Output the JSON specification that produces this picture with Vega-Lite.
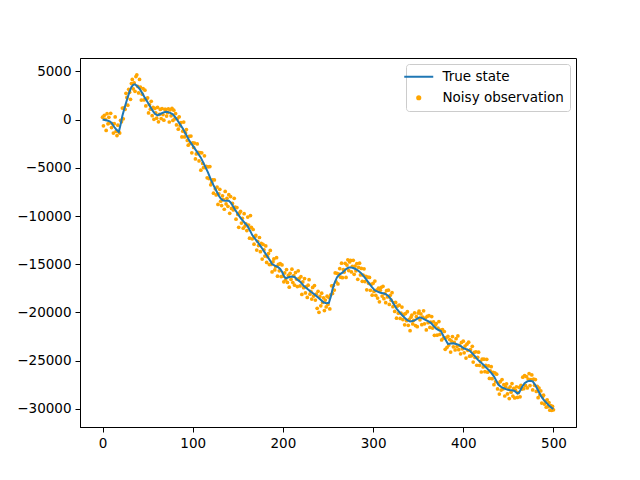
{
  "$schema": "https://vega.github.io/schema/vega-lite/v6.json",
  "autosize": {"type": "none"},
  "padding": {"left": 80, "top": 58, "right": 64, "bottom": 53},
  "width": 496,
  "height": 369,
  "background": "white",
  "config": {
    "view": {"stroke": "black", "strokeWidth": 1},
    "font": "DejaVu Sans",
    "axis": {
      "grid": false,
      "domainColor": "black",
      "domainWidth": 1,
      "tickColor": "black",
      "tickWidth": 1,
      "tickSize": 5,
      "labelFont": "DejaVu Sans",
      "labelFontSize": 13.5,
      "labelColor": "black",
      "labelPadding": 4,
      "title": null
    },
    "legend": {
      "orient": "top-right",
      "offset": 6,
      "padding": 6,
      "rowPadding": 6,
      "fillColor": "white",
      "strokeColor": "#cccccc",
      "cornerRadius": 3,
      "labelFont": "DejaVu Sans",
      "labelFontSize": 13.5,
      "labelColor": "black",
      "labelOffset": 17,
      "symbolSize": 225,
      "symbolStrokeWidth": 2,
      "symbolOpacity": 1
    }
  },
  "datasets": {
    "truth": [
      {"t": 0, "value": 0}, {"t": 5, "value": -100}, {"t": 8, "value": -180}, {"t": 10, "value": -350},
      {"t": 13, "value": -770}, {"t": 15, "value": -1000}, {"t": 18, "value": -1290}, {"t": 20, "value": -500},
      {"t": 22, "value": 400}, {"t": 25, "value": 1400}, {"t": 28, "value": 2340}, {"t": 30, "value": 2900},
      {"t": 32, "value": 3380}, {"t": 34, "value": 3600}, {"t": 36, "value": 3650}, {"t": 38, "value": 3500},
      {"t": 41, "value": 3200}, {"t": 44, "value": 2750}, {"t": 47, "value": 2250}, {"t": 50, "value": 1800},
      {"t": 52, "value": 1480}, {"t": 55, "value": 1000}, {"t": 58, "value": 600}, {"t": 61, "value": 440},
      {"t": 64, "value": 580}, {"t": 67, "value": 720}, {"t": 70, "value": 800}, {"t": 72, "value": 790},
      {"t": 75, "value": 700}, {"t": 78, "value": 550}, {"t": 81, "value": 200}, {"t": 83, "value": -70},
      {"t": 86, "value": -500}, {"t": 89, "value": -930}, {"t": 92, "value": -1450}, {"t": 96, "value": -2150},
      {"t": 100, "value": -2700}, {"t": 104, "value": -3250}, {"t": 109, "value": -3950}, {"t": 114, "value": -4900},
      {"t": 117, "value": -5500}, {"t": 120, "value": -6200}, {"t": 123, "value": -6800}, {"t": 126, "value": -7350},
      {"t": 129, "value": -7900}, {"t": 131, "value": -8180}, {"t": 133, "value": -8350}, {"t": 136, "value": -8430},
      {"t": 140, "value": -8430}, {"t": 142, "value": -8600}, {"t": 144, "value": -8880}, {"t": 147, "value": -9350},
      {"t": 150, "value": -9780}, {"t": 153, "value": -10200}, {"t": 155, "value": -10430}, {"t": 158, "value": -10750},
      {"t": 161, "value": -11080}, {"t": 164, "value": -11600}, {"t": 166, "value": -11980}, {"t": 169, "value": -12350},
      {"t": 172, "value": -12700}, {"t": 175, "value": -13100}, {"t": 177, "value": -13370}, {"t": 180, "value": -13800},
      {"t": 183, "value": -14230}, {"t": 186, "value": -14650}, {"t": 188, "value": -14990}, {"t": 191, "value": -15150},
      {"t": 194, "value": -15260}, {"t": 197, "value": -15500}, {"t": 199, "value": -15780}, {"t": 201, "value": -16200},
      {"t": 203, "value": -16470}, {"t": 205, "value": -16400}, {"t": 207, "value": -16330}, {"t": 210, "value": -16280},
      {"t": 213, "value": -16320}, {"t": 216, "value": -16600}, {"t": 219, "value": -16800}, {"t": 223, "value": -17250},
      {"t": 227, "value": -17550}, {"t": 231, "value": -17850}, {"t": 235, "value": -18130}, {"t": 240, "value": -18540},
      {"t": 245, "value": -18950}, {"t": 248, "value": -19050}, {"t": 251, "value": -19000}, {"t": 253, "value": -18400},
      {"t": 255, "value": -17600}, {"t": 257, "value": -17000}, {"t": 260, "value": -16350}, {"t": 263, "value": -16050},
      {"t": 266, "value": -15880}, {"t": 270, "value": -15500}, {"t": 273, "value": -15350}, {"t": 275, "value": -15330},
      {"t": 278, "value": -15400}, {"t": 281, "value": -15520}, {"t": 284, "value": -15700}, {"t": 287, "value": -15950},
      {"t": 290, "value": -16300}, {"t": 293, "value": -16650}, {"t": 296, "value": -17050}, {"t": 299, "value": -17400},
      {"t": 302, "value": -17720}, {"t": 305, "value": -17850}, {"t": 308, "value": -17960}, {"t": 311, "value": -18020},
      {"t": 314, "value": -18100}, {"t": 317, "value": -18300}, {"t": 320, "value": -18650}, {"t": 323, "value": -19150},
      {"t": 326, "value": -19600}, {"t": 329, "value": -19950}, {"t": 332, "value": -20270}, {"t": 335, "value": -20550},
      {"t": 338, "value": -20800}, {"t": 341, "value": -20950}, {"t": 344, "value": -20900}, {"t": 347, "value": -20780},
      {"t": 350, "value": -20600}, {"t": 352, "value": -20510}, {"t": 355, "value": -20620}, {"t": 358, "value": -20780},
      {"t": 361, "value": -20900}, {"t": 364, "value": -21080}, {"t": 367, "value": -21400}, {"t": 370, "value": -21680},
      {"t": 373, "value": -21850}, {"t": 375, "value": -21900}, {"t": 378, "value": -22450}, {"t": 381, "value": -22950},
      {"t": 383, "value": -23270}, {"t": 386, "value": -23230}, {"t": 389, "value": -23200}, {"t": 392, "value": -23280},
      {"t": 395, "value": -23370}, {"t": 398, "value": -23550}, {"t": 401, "value": -23740}, {"t": 404, "value": -23830},
      {"t": 407, "value": -23950}, {"t": 410, "value": -24250}, {"t": 413, "value": -24560}, {"t": 416, "value": -24900},
      {"t": 419, "value": -25150}, {"t": 422, "value": -25400}, {"t": 425, "value": -25680}, {"t": 428, "value": -25960},
      {"t": 431, "value": -26280}, {"t": 434, "value": -26620}, {"t": 437, "value": -27150}, {"t": 439, "value": -27500},
      {"t": 442, "value": -27720}, {"t": 445, "value": -27870}, {"t": 448, "value": -27980}, {"t": 451, "value": -28050},
      {"t": 454, "value": -28080}, {"t": 457, "value": -28150}, {"t": 460, "value": -28420}, {"t": 462, "value": -28300},
      {"t": 465, "value": -27760}, {"t": 468, "value": -27350}, {"t": 471, "value": -27150}, {"t": 474, "value": -27080},
      {"t": 477, "value": -27150}, {"t": 480, "value": -27550}, {"t": 483, "value": -28100}, {"t": 486, "value": -28650},
      {"t": 489, "value": -29050}, {"t": 492, "value": -29350}, {"t": 495, "value": -29650}, {"t": 498, "value": -29900},
      {"t": 500, "value": -30000}
    ],
    "obs": [
      {"t":0,"value":250},{"t":1,"value":-640},{"t":2,"value":440},{"t":3,"value":30},{"t":4,"value":-1120},
      {"t":5,"value":610},{"t":6,"value":-440},{"t":7,"value":230},{"t":8,"value":-330},{"t":9,"value":650},
      {"t":10,"value":-830},{"t":11,"value":-430},{"t":12,"value":-1400},{"t":13,"value":-430},{"t":14,"value":270},
      {"t":15,"value":-1230},{"t":16,"value":-1660},{"t":17,"value":-580},{"t":18,"value":-1270},{"t":19,"value":-1400},
      {"t":20,"value":-70},{"t":21,"value":-230},{"t":22,"value":1190},{"t":23,"value":80},{"t":24,"value":1210},
      {"t":25,"value":1070},{"t":26,"value":2730},{"t":27,"value":2300},{"t":28,"value":1500},{"t":29,"value":3140},
      {"t":30,"value":2840},{"t":31,"value":2100},{"t":32,"value":3740},{"t":33,"value":4170},{"t":34,"value":3190},
      {"t":35,"value":3820},{"t":36,"value":2930},{"t":37,"value":4460},{"t":38,"value":4650},{"t":39,"value":3450},
      {"t":40,"value":2760},{"t":41,"value":4170},{"t":42,"value":3360},{"t":43,"value":2030},{"t":44,"value":2630},
      {"t":45,"value":3200},{"t":46,"value":2040},{"t":47,"value":3050},{"t":48,"value":1410},{"t":49,"value":2170},
      {"t":50,"value":2260},{"t":51,"value":690},{"t":52,"value":1560},{"t":53,"value":1080},{"t":54,"value":1900},
      {"t":55,"value":400},{"t":56,"value":1260},{"t":57,"value":30},{"t":58,"value":1160},{"t":59,"value":700},
      {"t":60,"value":140},{"t":61,"value":1270},{"t":62,"value":-230},{"t":63,"value":540},{"t":64,"value":1050},
      {"t":65,"value":100},{"t":66,"value":1150},{"t":67,"value":520},{"t":68,"value":-60},{"t":69,"value":1060},
      {"t":70,"value":1050},{"t":71,"value":360},{"t":72,"value":720},{"t":73,"value":1110},{"t":74,"value":-250},
      {"t":75,"value":1020},{"t":76,"value":390},{"t":77,"value":1170},{"t":78,"value":-90},{"t":79,"value":980},
      {"t":80,"value":70},{"t":81,"value":630},{"t":82,"value":-560},{"t":83,"value":110},{"t":84,"value":-1000},
      {"t":85,"value":290},{"t":86,"value":-640},{"t":87,"value":-310},{"t":88,"value":-1800},{"t":89,"value":-1200},
      {"t":90,"value":-260},{"t":91,"value":-1800},{"t":92,"value":-1390},{"t":93,"value":-1030},{"t":94,"value":-2160},
      {"t":95,"value":-2660},{"t":96,"value":-1740},{"t":97,"value":-2480},{"t":98,"value":-1710},{"t":99,"value":-3440},
      {"t":100,"value":-2410},{"t":101,"value":-2890},{"t":102,"value":-2440},{"t":103,"value":-4080},{"t":104,"value":-3560},
      {"t":105,"value":-2520},{"t":106,"value":-3410},{"t":107,"value":-4290},{"t":108,"value":-3430},{"t":109,"value":-5250},
      {"t":110,"value":-3450},{"t":111,"value":-4550},{"t":112,"value":-4980},{"t":113,"value":-3760},{"t":114,"value":-4980},
      {"t":115,"value":-4860},{"t":116,"value":-6040},{"t":117,"value":-4900},{"t":118,"value":-6120},{"t":119,"value":-4870},
      {"t":120,"value":-6760},{"t":121,"value":-6550},{"t":122,"value":-6250},{"t":123,"value":-7630},{"t":124,"value":-6260},
      {"t":125,"value":-7180},{"t":126,"value":-7820},{"t":127,"value":-7000},{"t":128,"value":-8800},{"t":129,"value":-7700},
      {"t":130,"value":-7230},{"t":131,"value":-8470},{"t":132,"value":-8920},{"t":133,"value":-7910},{"t":134,"value":-8310},
      {"t":135,"value":-9300},{"t":136,"value":-7450},{"t":137,"value":-8750},{"t":138,"value":-8170},{"t":139,"value":-9000},
      {"t":140,"value":-7790},{"t":141,"value":-9720},{"t":142,"value":-7980},{"t":143,"value":-9220},{"t":144,"value":-8700},
      {"t":145,"value":-9370},{"t":146,"value":-8170},{"t":147,"value":-9080},{"t":148,"value":-10330},{"t":149,"value":-9120},
      {"t":150,"value":-9840},{"t":151,"value":-11170},{"t":152,"value":-9700},{"t":153,"value":-9520},{"t":154,"value":-10730},
      {"t":155,"value":-10240},{"t":156,"value":-11260},{"t":157,"value":-9760},{"t":158,"value":-11040},{"t":159,"value":-10810},
      {"t":160,"value":-11510},{"t":161,"value":-10110},{"t":162,"value":-10940},{"t":163,"value":-12300},{"t":164,"value":-9950},
      {"t":165,"value":-11170},{"t":166,"value":-12360},{"t":167,"value":-11400},{"t":168,"value":-12920},{"t":169,"value":-12130},
      {"t":170,"value":-12010},{"t":171,"value":-13530},{"t":172,"value":-12620},{"t":173,"value":-13070},{"t":174,"value":-12230},
      {"t":175,"value":-13700},{"t":176,"value":-12850},{"t":177,"value":-14470},{"t":178,"value":-12950},{"t":179,"value":-13510},
      {"t":180,"value":-14150},{"t":181,"value":-13110},{"t":182,"value":-14810},{"t":183,"value":-14220},{"t":184,"value":-13900},
      {"t":185,"value":-15040},{"t":186,"value":-13570},{"t":187,"value":-15020},{"t":188,"value":-15800},{"t":189,"value":-14750},
      {"t":190,"value":-14450},{"t":191,"value":-15590},{"t":192,"value":-15260},{"t":193,"value":-14320},{"t":194,"value":-16240},
      {"t":195,"value":-15020},{"t":196,"value":-15680},{"t":197,"value":-14930},{"t":198,"value":-16280},{"t":199,"value":-15080},
      {"t":200,"value":-16240},{"t":201,"value":-16820},{"t":202,"value":-15910},{"t":203,"value":-16620},{"t":204,"value":-15560},
      {"t":205,"value":-16890},{"t":206,"value":-16160},{"t":207,"value":-17380},{"t":208,"value":-15940},{"t":209,"value":-16580},
      {"t":210,"value":-15520},{"t":211,"value":-16900},{"t":212,"value":-16190},{"t":213,"value":-17180},{"t":214,"value":-15870},
      {"t":215,"value":-16540},{"t":216,"value":-17320},{"t":217,"value":-15680},{"t":218,"value":-16480},{"t":219,"value":-17250},
      {"t":220,"value":-16290},{"t":221,"value":-18130},{"t":222,"value":-16840},{"t":223,"value":-17440},{"t":224,"value":-16490},
      {"t":225,"value":-17980},{"t":226,"value":-17330},{"t":227,"value":-18450},{"t":228,"value":-17170},{"t":229,"value":-16600},
      {"t":230,"value":-18110},{"t":231,"value":-17810},{"t":232,"value":-18620},{"t":233,"value":-17410},{"t":234,"value":-18300},
      {"t":235,"value":-17210},{"t":236,"value":-18720},{"t":237,"value":-18110},{"t":238,"value":-19580},{"t":239,"value":-17810},
      {"t":240,"value":-19990},{"t":241,"value":-18340},{"t":242,"value":-19320},{"t":243,"value":-18000},{"t":244,"value":-18960},
      {"t":245,"value":-18480},{"t":246,"value":-19810},{"t":247,"value":-18720},{"t":248,"value":-19430},{"t":249,"value":-18320},
      {"t":250,"value":-19170},{"t":251,"value":-18460},{"t":252,"value":-19640},{"t":253,"value":-18180},{"t":254,"value":-17240},
      {"t":255,"value":-18030},{"t":256,"value":-17210},{"t":257,"value":-17680},{"t":258,"value":-15900},{"t":259,"value":-16820},
      {"t":260,"value":-15950},{"t":261,"value":-17040},{"t":262,"value":-16020},{"t":263,"value":-15450},{"t":264,"value":-16350},
      {"t":265,"value":-14890},{"t":266,"value":-16400},{"t":267,"value":-15550},{"t":268,"value":-15810},{"t":269,"value":-14910},
      {"t":270,"value":-16370},{"t":271,"value":-15090},{"t":272,"value":-14550},{"t":273,"value":-15660},{"t":274,"value":-14760},
      {"t":275,"value":-14610},{"t":276,"value":-15800},{"t":277,"value":-15220},{"t":278,"value":-14600},{"t":279,"value":-16050},
      {"t":280,"value":-15200},{"t":281,"value":-15690},{"t":282,"value":-14940},{"t":283,"value":-16570},{"t":284,"value":-15330},
      {"t":285,"value":-14890},{"t":286,"value":-16110},{"t":287,"value":-15440},{"t":288,"value":-16770},{"t":289,"value":-16120},
      {"t":290,"value":-15480},{"t":291,"value":-16800},{"t":292,"value":-16270},{"t":293,"value":-17650},{"t":294,"value":-16330},
      {"t":295,"value":-16980},{"t":296,"value":-16370},{"t":297,"value":-17710},{"t":298,"value":-17090},{"t":299,"value":-18210},
      {"t":300,"value":-16980},{"t":301,"value":-17830},{"t":302,"value":-16750},{"t":303,"value":-18230},{"t":304,"value":-17700},
      {"t":305,"value":-18510},{"t":306,"value":-17490},{"t":307,"value":-18900},{"t":308,"value":-17710},{"t":309,"value":-17400},
      {"t":310,"value":-18310},{"t":311,"value":-17290},{"t":312,"value":-18570},{"t":313,"value":-18040},{"t":314,"value":-18990},
      {"t":315,"value":-17730},{"t":316,"value":-18400},{"t":317,"value":-17690},{"t":318,"value":-19170},{"t":319,"value":-18230},
      {"t":320,"value":-18730},{"t":321,"value":-17960},{"t":322,"value":-19410},{"t":323,"value":-18980},{"t":324,"value":-19900},
      {"t":325,"value":-18960},{"t":326,"value":-20600},{"t":327,"value":-19340},{"t":328,"value":-20080},{"t":329,"value":-19250},
      {"t":330,"value":-20620},{"t":331,"value":-20070},{"t":332,"value":-19450},{"t":333,"value":-20740},{"t":334,"value":-20210},
      {"t":335,"value":-21280},{"t":336,"value":-20120},{"t":337,"value":-20860},{"t":338,"value":-19920},{"t":339,"value":-21340},
      {"t":340,"value":-20730},{"t":341,"value":-21900},{"t":342,"value":-20500},{"t":343,"value":-20270},{"t":344,"value":-21200},
      {"t":345,"value":-20820},{"t":346,"value":-20060},{"t":347,"value":-21370},{"t":348,"value":-20440},{"t":349,"value":-21480},
      {"t":350,"value":-20070},{"t":351,"value":-19860},{"t":352,"value":-20770},{"t":353,"value":-20160},{"t":354,"value":-21270},
      {"t":355,"value":-20500},{"t":356,"value":-19830},{"t":357,"value":-21180},{"t":358,"value":-20580},{"t":359,"value":-21820},
      {"t":360,"value":-20400},{"t":361,"value":-21070},{"t":362,"value":-20340},{"t":363,"value":-21560},{"t":364,"value":-21000},
      {"t":365,"value":-20430},{"t":366,"value":-21620},{"t":367,"value":-20990},{"t":368,"value":-22370},{"t":369,"value":-21320},
      {"t":370,"value":-21150},{"t":371,"value":-22360},{"t":372,"value":-21640},{"t":373,"value":-20950},{"t":374,"value":-22280},
      {"t":375,"value":-21840},{"t":376,"value":-22850},{"t":377,"value":-21790},{"t":378,"value":-22670},{"t":379,"value":-21980},
      {"t":380,"value":-23830},{"t":381,"value":-22620},{"t":382,"value":-23620},{"t":383,"value":-22480},{"t":384,"value":-23390},
      {"t":385,"value":-22820},{"t":386,"value":-24110},{"t":387,"value":-22970},{"t":388,"value":-22510},{"t":389,"value":-23570},
      {"t":390,"value":-23110},{"t":391,"value":-23890},{"t":392,"value":-22720},{"t":393,"value":-23540},{"t":394,"value":-22440},
      {"t":395,"value":-23870},{"t":396,"value":-23410},{"t":397,"value":-24300},{"t":398,"value":-23120},{"t":399,"value":-23770},
      {"t":400,"value":-22990},{"t":401,"value":-24190},{"t":402,"value":-23490},{"t":403,"value":-24730},{"t":404,"value":-23290},
      {"t":405,"value":-23930},{"t":406,"value":-23090},{"t":407,"value":-24540},{"t":408,"value":-23860},{"t":409,"value":-24500},
      {"t":410,"value":-23520},{"t":411,"value":-25150},{"t":412,"value":-24150},{"t":413,"value":-24670},{"t":414,"value":-24080},
      {"t":415,"value":-25480},{"t":416,"value":-24660},{"t":417,"value":-24120},{"t":418,"value":-25490},{"t":419,"value":-25080},
      {"t":420,"value":-26180},{"t":421,"value":-24840},{"t":422,"value":-25650},{"t":423,"value":-24850},{"t":424,"value":-26150},
      {"t":425,"value":-25500},{"t":426,"value":-24870},{"t":427,"value":-26200},{"t":428,"value":-25550},{"t":429,"value":-26850},
      {"t":430,"value":-26070},{"t":431,"value":-25630},{"t":432,"value":-26870},{"t":433,"value":-26220},{"t":434,"value":-27490},
      {"t":435,"value":-26270},{"t":436,"value":-27170},{"t":437,"value":-26410},{"t":438,"value":-27940},{"t":439,"value":-27350},
      {"t":440,"value":-28470},{"t":441,"value":-27190},{"t":442,"value":-28050},{"t":443,"value":-26970},{"t":444,"value":-27940},
      {"t":445,"value":-27500},{"t":446,"value":-28670},{"t":447,"value":-27710},{"t":448,"value":-27400},{"t":449,"value":-28450},
      {"t":450,"value":-27940},{"t":451,"value":-28930},{"t":452,"value":-27720},{"t":453,"value":-28270},{"t":454,"value":-27380},
      {"t":455,"value":-28680},{"t":456,"value":-27870},{"t":457,"value":-28870},{"t":458,"value":-28090},{"t":459,"value":-27710},
      {"t":460,"value":-28820},{"t":461,"value":-28320},{"t":462,"value":-27770},{"t":463,"value":-28760},{"t":464,"value":-27560},
      {"t":465,"value":-27950},{"t":466,"value":-26720},{"t":467,"value":-27910},{"t":468,"value":-26550},{"t":469,"value":-27580},
      {"t":470,"value":-26660},{"t":471,"value":-27830},{"t":472,"value":-26910},{"t":473,"value":-26350},{"t":474,"value":-27590},
      {"t":475,"value":-26980},{"t":476,"value":-26490},{"t":477,"value":-28040},{"t":478,"value":-26930},{"t":479,"value":-27560},
      {"t":480,"value":-26970},{"t":481,"value":-28200},{"t":482,"value":-27660},{"t":483,"value":-28850},{"t":484,"value":-27850},
      {"t":485,"value":-28560},{"t":486,"value":-28150},{"t":487,"value":-29400},{"t":488,"value":-28740},{"t":489,"value":-28590},
      {"t":490,"value":-29500},{"t":491,"value":-29190},{"t":492,"value":-29830},{"t":493,"value":-29060},{"t":494,"value":-29770},
      {"t":495,"value":-29350},{"t":496,"value":-30140},{"t":497,"value":-29670},{"t":498,"value":-30150},{"t":499,"value":-29750},
      {"t":500,"value":-30100}
    ]
  },
  "encoding": {
    "x": {
      "field": "t",
      "type": "quantitative",
      "scale": {"domain": [-25, 525], "nice": false, "zero": false},
      "axis": {"values": [0, 100, 200, 300, 400, 500], "format": "d"}
    },
    "y": {
      "field": "value",
      "type": "quantitative",
      "scale": {"domain": [-31885, 6388], "nice": false, "zero": false},
      "axis": {
        "values": [-30000, -25000, -20000, -15000, -10000, -5000, 0, 5000],
        "format": "d"
      }
    }
  },
  "layer": [
    {
      "data": {"name": "obs"},
      "mark": {"type": "circle", "size": 14, "opacity": 1},
      "encoding": {
        "color": {
          "datum": "Noisy observation",
          "type": "nominal",
          "scale": {
            "domain": ["True state", "Noisy observation"],
            "range": ["#1f77b4", "orange"]
          },
          "legend": {
            "title": null,
            "encode": {
              "symbols": {
                "update": {
                  "shape": {"signal": "datum.value === 'True state' ? 'stroke' : 'circle'"},
                  "size": {"signal": "datum.value === 'True state' ? 841 : 10"},
                  "stroke": {"signal": "datum.value === 'True state' ? '#1f77b4' : 'transparent'"},
                  "fill": {"signal": "datum.value === 'True state' ? 'transparent' : 'orange'"},
                  "strokeWidth": {"value": 2}
                }
              }
            }
          }
        }
      }
    },
    {
      "data": {"name": "truth"},
      "mark": {"type": "line", "strokeWidth": 2},
      "encoding": {
        "color": {
          "datum": "True state",
          "type": "nominal",
          "legend": {
            "title": null,
            "encode": {
              "symbols": {
                "update": {
                  "shape": {"signal": "datum.value === 'True state' ? 'stroke' : 'circle'"},
                  "size": {"signal": "datum.value === 'True state' ? 841 : 10"},
                  "stroke": {"signal": "datum.value === 'True state' ? '#1f77b4' : 'transparent'"},
                  "fill": {"signal": "datum.value === 'True state' ? 'transparent' : 'orange'"},
                  "strokeWidth": {"value": 2}
                }
              }
            }
          }
        }
      }
    }
  ]
}
